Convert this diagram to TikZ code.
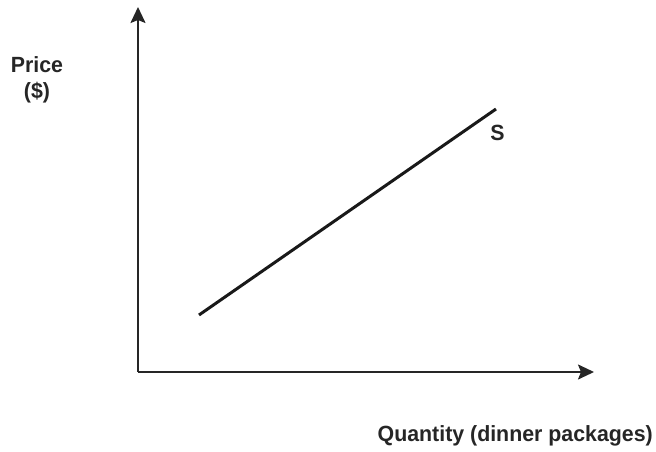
\documentclass[tikz,border=0pt]{standalone}
\usepackage{fontspec}
\setmainfont[FakeStretch=0.97]{Liberation Sans}
\usetikzlibrary{arrows.meta}
\begin{document}
\begin{tikzpicture}[x=1pt,y=-1pt,
  axis/.style={line width=2pt,draw=black!85,-{Stealth[length=16pt,width=15pt,inset=3pt]}},
  curve/.style={line width=3pt,draw=black!90},
  lbl/.style={font=\fontsize{22}{26}\selectfont\bfseries,text=black!85,inner sep=0pt,align=center}]
\useasboundingbox (0,0) rectangle (656,452);
\coordinate (o) at (138,372);
\coordinate (ytip) at (138,7);
\coordinate (xtip) at (594,372);
\coordinate (s1) at (199,315);
\coordinate (s2) at (496,109);
\draw[axis] (o) -- (ytip);
\draw[axis] (o) -- (xtip);
\draw[curve] (s1) -- (s2);
\node[lbl] (S) at (497.5,133) {S};
\node[lbl] (price) at (37,65) {Price};
\node[lbl] (dollar) at (37,93) {(\$)};
\node[lbl,anchor=east] (qty) at (653,436) {Quantity (dinner packages)};
\end{tikzpicture}
\end{document}
